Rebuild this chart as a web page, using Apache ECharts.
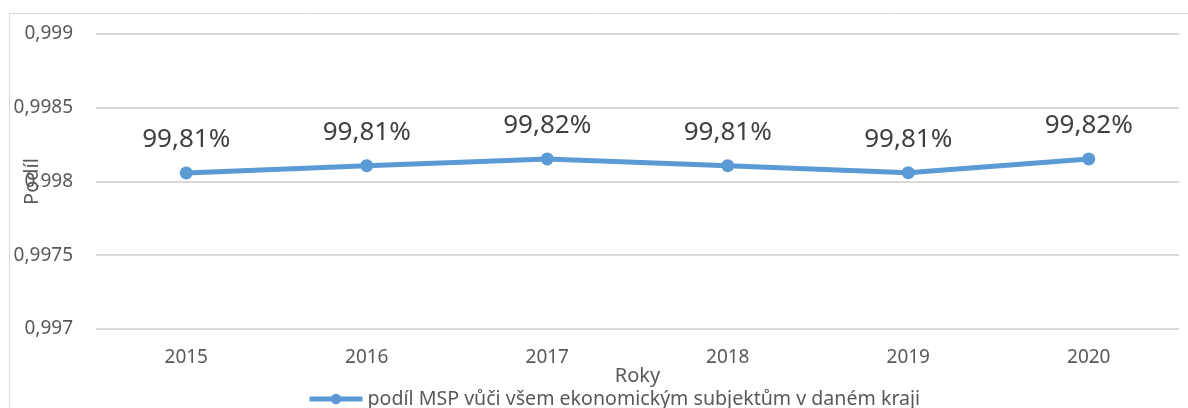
<!DOCTYPE html>
<html>
<head>
<meta charset="utf-8">
<script src="https://cdn.jsdelivr.net/npm/echarts@6/dist/echarts.min.js"></script>
<style>
html,body{margin:0;padding:0;background:#fff;}
#chart{width:1188px;height:408px;}
</style>
</head>
<body>
<div id="chart"></div>
<script>
// data
var years = ['2015', '2016', '2017', '2018', '2019', '2020'];
var podil = [0.998058, 0.998107, 0.998153, 0.998107, 0.998060, 0.998153];
var seriesName = 'podíl MSP vůči všem ekonomickým subjektům v daném kraji';

var myChart = echarts.init(document.getElementById('chart'));
var font = '"Noto Sans", sans-serif';

var option = {
    backgroundColor: '#fff',
    textStyle: {fontFamily: font},
    animation: false,
    graphic: [{
        type: 'rect',
        shape: {x: 9.5, y: 13.5, width: 1300, height: 500},
        style: {fill: 'none', stroke: '#d9d9d9', lineWidth: 1},
        silent: true,
        z: -1
    }],
    grid: {left: 96, right: 9, top: 34, bottom: 79, containLabel: false, outerBoundsMode: 'none'},
    legend: {
        data: [seriesName],
        left: 307,
        top: 389,
        padding: 0,
        itemWidth: 53,
        itemHeight: 13,
        lineStyle: {width: 5},
        textStyle: {color: '#595959', fontSize: 19.6, fontFamily: font}
    },
    xAxis: {
        type: 'category',
        data: years,
        boundaryGap: true,
        name: 'Roky',
        nameLocation: 'middle',
        nameGap: 37,
        nameMoveOverlap: false,
        nameTextStyle: {color: '#595959', fontSize: 20},
        axisLine: {show: false},
        axisTick: {show: false},
        axisLabel: {color: '#595959', fontSize: 19, margin: 19}
    },
    yAxis: {
        type: 'value',
        min: 0.997,
        max: 0.999,
        interval: 0.0005,
        name: 'Podíl',
        nameLocation: 'middle',
        nameGap: 54,
        nameMoveOverlap: false,
        nameTextStyle: {color: '#595959', fontSize: 20},
        axisLine: {show: false},
        axisTick: {show: false},
        splitLine: {lineStyle: {color: '#d9d9d9', width: 2}},
        axisLabel: {
            color: '#595959',
            fontSize: 19,
            margin: 23,
            formatter: function (v) {
                return String(parseFloat(v.toFixed(4))).replace('.', ',');
            }
        }
    },
    series: [{
        name: seriesName,
        type: 'line',
        data: podil,
        symbol: 'circle',
        symbolSize: 13,
        lineStyle: {color: '#5b9bd5', width: 5},
        itemStyle: {color: '#5b9bd5'},
        label: {
            show: true,
            position: 'top',
            distance: 14,
            color: '#404040',
            fontSize: 26,
            fontFamily: font,
            formatter: function (p) {
                return (p.value * 100).toFixed(2).replace('.', ',') + '%';
            }
        }
    }]
};
myChart.setOption(option);
</script>
</body>
</html>
